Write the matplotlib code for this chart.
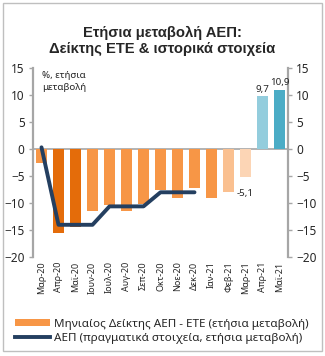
import matplotlib
matplotlib.use("Agg")
import matplotlib.pyplot as plt
from matplotlib.patches import Patch, Rectangle
from matplotlib.lines import Line2D

plt.rcParams['font.family'] = ['Noto Sans', 'DejaVu Sans']

months = ['Μαρ-20', 'Απρ-20', 'Μαϊ-20', 'Ιουν-20', 'Ιουλ-20', 'Αυγ-20', 'Σεπ-20',
          'Οκτ-20', 'Νοε-20', 'Δεκ-20', 'Ιαν-21', 'Φεβ-21', 'Μαρ-21', 'Απρ-21', 'Μαϊ-21']
index_values = [-2.5, -15.5, -14.4, -11.5, -10.4, -11.5, -10.1, -7.6, -9.1, -7.2,
                -9.0, -8.0, -5.1, 9.7, 10.9]
gdp_values = [0.3, -14.0, -14.0, -14.0, -10.6, -10.6, -10.6, -8.0, -8.0, -8.0]
labelled = {12: '-5,1', 13: '9,7', 14: '10,9'}

mid = '#F79646'
bar_colors = [mid, '#E46C0A', '#E46C0A', mid, mid, mid, mid, mid, mid, mid,
              mid, '#FAC090', '#FCD5B5', '#93CDDD', '#4BACC6']
navy = '#243F60'
grey = '#A6A6A6'

fig = plt.figure(figsize=(3.25, 3.56), dpi=100)
fig.patches.append(Rectangle((3 / 325, 1 - 351 / 356), 319 / 325, 348 / 356,
                             transform=fig.transFigure, fill=False,
                             edgecolor='#BFBFBF', linewidth=1.0))

ax = fig.add_axes([33 / 325, 1 - 257.3 / 356, 255 / 325, 189.6 / 356])
x = list(range(len(months)))
ax.bar(x, index_values, width=0.59, color=bar_colors, zorder=2)
ax.plot(x[:len(gdp_values)], gdp_values, color=navy, linewidth=2.8,
        solid_capstyle='round', solid_joinstyle='round', zorder=3)
ax.axhline(0, color=grey, linewidth=1.2, zorder=1)

for i, txt in labelled.items():
    v = index_values[i]
    if v < 0:
        ax.text(i, v - 2.2, txt, ha='center', va='top', fontsize=7, color='#262626')
    else:
        ax.text(i, v + 0.5, txt, ha='center', va='bottom', fontsize=7, color='#262626')

ax.set_xlim(-0.5, 14.5)
ax.set_ylim(-20, 15)
ax.set_yticks(range(-20, 16, 5))
ax.set_xticks(x)
ax.set_xticklabels(months, rotation=90, fontsize=6.5, color='#262626')
ax.tick_params(axis='x', length=0, pad=3)
ax.tick_params(axis='y', direction='out', length=3, width=1, color=grey,
               labelsize=8.5, labelcolor='#262626', pad=3,
               right=True, labelright=True)

for side in ['top', 'bottom']:
    ax.spines[side].set_visible(False)
for side in ['left', 'right']:
    ax.spines[side].set_color(grey)
    ax.spines[side].set_linewidth(1.6)
ax.set_facecolor('none')

ax.text(0.035, 0.985, '%, ετήσια\nμεταβολή', transform=ax.transAxes,
        ha='left', va='top', fontsize=7, color='#262626', linespacing=1.5)

fig.text(0.5, 1 - 41 / 356, 'Ετήσια μεταβολή ΑΕΠ:\nΔείκτης ΕΤΕ & ιστορικά στοιχεία',
         ha='center', va='center', fontsize=10.6, fontweight='bold', color='#262626',
         family=['Liberation Sans', 'DejaVu Sans'], linespacing=1.25)

handles = [Patch(facecolor=mid, edgecolor='none'),
           Line2D([0], [0], color=navy, linewidth=2.8)]
names = ['Μηνιαίος Δείκτης ΑΕΠ - ΕΤΕ (ετήσια μεταβολή)',
         'ΑΕΠ (πραγματικά στοιχεία, ετήσια μεταβολή)']
fig.legend(handles, names, loc='upper left', bbox_to_anchor=(9 / 325, 1 - 313 / 356),
           frameon=False, fontsize=8.4, handlelength=3.0, handleheight=0.5,
           handletextpad=0.4, labelspacing=0.25, borderpad=0, labelcolor='#262626')

fig.savefig('out.png', dpi=100)
